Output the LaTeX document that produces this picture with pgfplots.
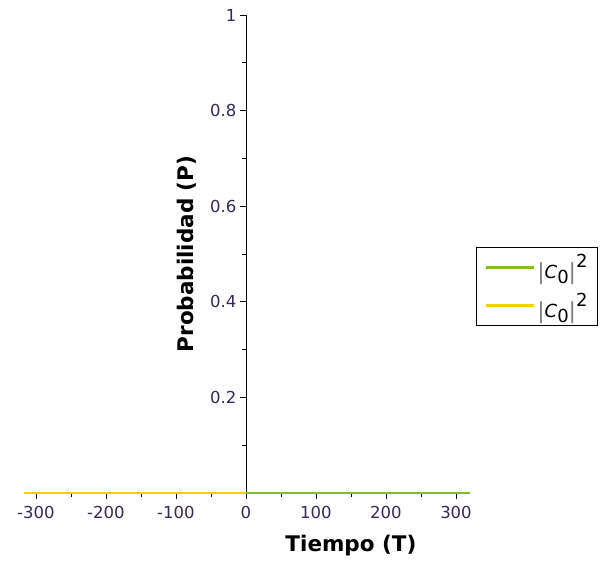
\documentclass[border=0pt]{standalone}
\usepackage{pgfplots}
\pgfplotsset{compat=1.18}
\usepackage{fontspec}
\setmainfont{DejaVu Sans}
\definecolor{cgreen}{RGB}{128,192,36}
\definecolor{cyellow}{RGB}{250,206,0}
\definecolor{ticktxt}{RGB}{55,40,85}
\newcommand{\Cabs}{\raisebox{-0.15ex}{\fontsize{22}{22}\selectfont\textcolor{gray}{|}}\textit{C}\raisebox{-0.5ex}{0}\raisebox{-0.15ex}{\fontsize{22}{22}\selectfont\textcolor{gray}{|}}\raisebox{1.1ex}{2}}
\begin{document}
\begin{tikzpicture}[x=1pt,y=1pt]
\useasboundingbox (0,0) rectangle (602,562);
\begin{axis}[
  at={(24pt,69pt)}, anchor=south west,
  scale only axis, width=446pt, height=478pt,
  xmin=-317, xmax=320, ymin=0, ymax=1,
  axis lines=middle,
  hide obscured x ticks=false,
  axis line style={line width=0.9pt, -},
  xtick={-300,-200,-100,0,100,200,300},
  ytick={0.2,0.4,0.6,0.8,1},
  minor xtick={-250,-150,-50,50,150,250},
  minor ytick={0.1,0.3,0.5,0.7,0.9},
  xtick style={black, line width=0.8pt},
  ytick style={black, line width=0.8pt},
  x tick label style={yshift=-4pt},
  major tick length=6pt, minor tick length=4pt,
  xtick align=outside, ytick align=outside,
  tick label style={font=\fontsize{16.5}{19}\selectfont, text=ticktxt},
  /pgf/number format/assume math mode=true,
  yticklabel style={/pgf/number format/fixed, /pgf/number format/precision=1},
  xlabel={Tiempo (T)},
  ylabel={Probabilidad (P)},
  label style={font=\fontsize{21.5}{24}\selectfont\bfseries},
  xlabel style={at={(axis cs:150,0)}, anchor=north, yshift=-39pt},
  ylabel style={at={(axis cs:0,0.5)}, rotate=90, anchor=south, xshift=0pt, yshift=46pt},
  legend style={at={(1.013,0.515)}, anchor=north west, draw=black, line width=1pt,
     font=\fontsize{18}{22}\selectfont, row sep=9pt, inner xsep=8pt, inner ysep=5pt},
  legend cell align=left,
  legend image code/.code={\draw[#1, line width=3pt] (0pt,0pt) -- (48pt,0pt);},
]
\addplot[cgreen, line width=3pt] coordinates {(0,0) (320,0)};
\addlegendentry{\Cabs}
\addplot[cyellow, line width=3pt] coordinates {(-317,0) (0,0)};
\addlegendentry{\Cabs}
\end{axis}
\end{tikzpicture}
\end{document}
